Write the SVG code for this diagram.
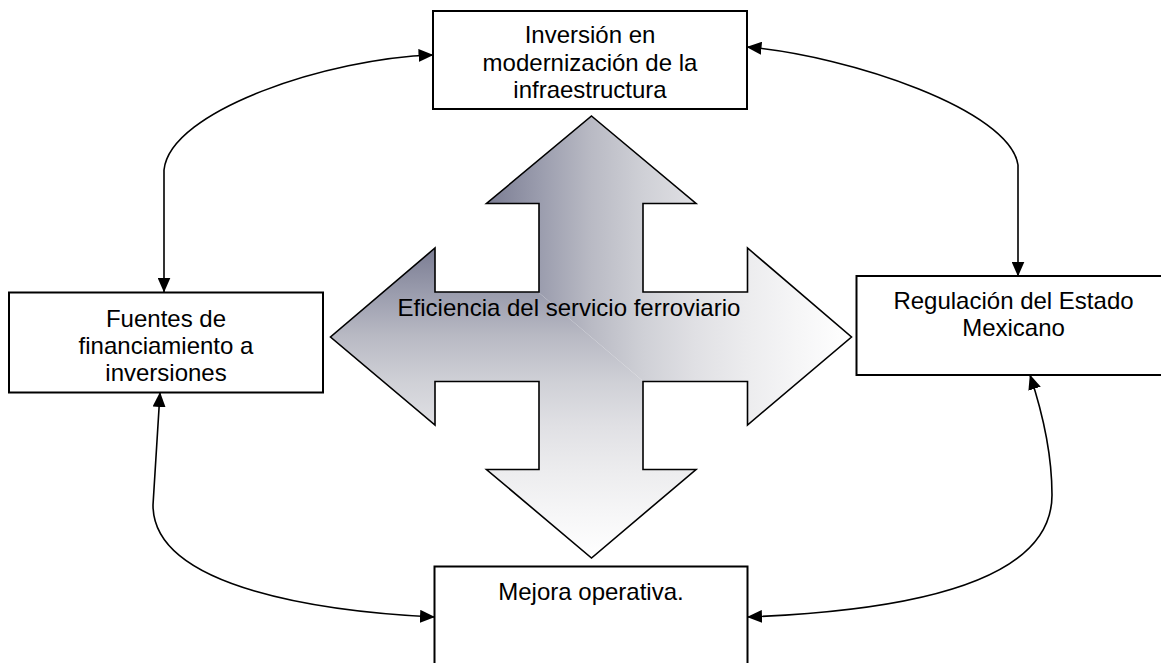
<svg xmlns="http://www.w3.org/2000/svg" xmlns:xlink="http://www.w3.org/1999/xlink" width="1161" height="663" viewBox="0 0 1161 663">
  <style>
    .box { fill: #ffffff; stroke: #000000; stroke-width: 2; }
    .lbl { font-family: "Liberation Sans", Arial, sans-serif; font-size: 24px; fill: #000000; text-anchor: middle; }
    .conn { fill: none; stroke: #000000; stroke-width: 1.6; marker-start: url(#ah); marker-end: url(#ah); }
  </style>
  <defs>
    <marker id="ah" markerUnits="userSpaceOnUse" markerWidth="15" markerHeight="13" refX="14.5" refY="6.5" orient="auto-start-reverse" viewBox="0 0 15 13">
      <path d="M0,0 L15,6.5 L0,13 Z" fill="#000000"/>
    </marker>
    <linearGradient id="gh" gradientUnits="userSpaceOnUse" x1="330.5" y1="0" x2="851.5" y2="0">
      <stop offset="0" stop-color="#6a6c84"/>
      <stop offset="0.3" stop-color="#7b7d93"/>
      <stop offset="0.4" stop-color="#9a9cad"/>
      <stop offset="0.5" stop-color="#b9bac4"/>
      <stop offset="0.6" stop-color="#cfd0d6"/>
      <stop offset="0.7" stop-color="#e0e0e4"/>
      <stop offset="0.8" stop-color="#ececee"/>
      <stop offset="0.9" stop-color="#f6f6f7"/>
      <stop offset="1" stop-color="#ffffff"/>
    </linearGradient>
    <linearGradient id="gv" gradientUnits="userSpaceOnUse" x1="0" y1="116" x2="0" y2="558">
      <stop offset="0" stop-color="#6a6c84"/>
      <stop offset="0.3" stop-color="#7b7d93"/>
      <stop offset="0.4" stop-color="#9a9cad"/>
      <stop offset="0.5" stop-color="#b9bac4"/>
      <stop offset="0.6" stop-color="#cfd0d6"/>
      <stop offset="0.7" stop-color="#e0e0e4"/>
      <stop offset="0.8" stop-color="#ececee"/>
      <stop offset="0.9" stop-color="#f6f6f7"/>
      <stop offset="1" stop-color="#ffffff"/>
    </linearGradient>
    <clipPath id="cu"><path d="M330.5,116 L851.5,116 L851.5,558 Z"/></clipPath>
    <clipPath id="cl"><path d="M330.5,116 L330.5,558 L851.5,558 Z"/></clipPath>
    <path id="cross" d="M591.5,116 L696,203.5 L643,203.5 L643,292 L747.5,292 L747.5,248 L851.5,337 L747.5,425 L747.5,381.5 L643,381.5 L643,469.5 L696,469.5 L591.5,558 L486.5,469.5 L539,469.5 L539,381.5 L435,381.5 L435,425 L330.5,337 L435,248 L435,292 L539,292 L539,203.5 L486.5,203.5 Z"/>
  </defs>

  <g id="eficiencia">
    <use xlink:href="#cross" fill="url(#gh)" clip-path="url(#cu)"/>
    <use xlink:href="#cross" fill="url(#gv)" clip-path="url(#cl)"/>
    <use xlink:href="#cross" fill="none" stroke="#000000" stroke-width="1.6" stroke-linejoin="miter"/>
    <text class="lbl" x="569" y="316">Eficiencia del servicio ferroviario</text>
  </g>

  <g id="inversion">
    <rect class="box" x="433" y="11" width="314" height="98"/>
    <text class="lbl" x="590" y="43">Inversión en</text>
    <text class="lbl" x="590" y="70.6">modernización de la</text>
    <text class="lbl" x="590" y="98.2">infraestructura</text>
  </g>

  <g id="fuentes">
    <rect class="box" x="9" y="292.5" width="314" height="100"/>
    <text class="lbl" x="166" y="326.5">Fuentes de</text>
    <text class="lbl" x="166" y="353.5">financiamiento a</text>
    <text class="lbl" x="166" y="380.5">inversiones</text>
  </g>

  <g id="regulacion">
    <rect class="box" x="856.5" y="276" width="314" height="99"/>
    <text class="lbl" x="1013.5" y="308.5">Regulación del Estado</text>
    <text class="lbl" x="1013.5" y="335.5">Mexicano</text>
  </g>

  <g id="mejora">
    <rect class="box" x="434.5" y="566.5" width="313" height="100"/>
    <text class="lbl" x="591" y="600">Mejora operativa.</text>
  </g>

  <g id="connectors">
    <path class="conn" d="M164,292 L164,170 C170,110 330,58 433,55"/>
    <path class="conn" d="M747,47 C850,56 1010,110 1018,165 L1018,276"/>
    <path class="conn" d="M160,392.5 L153,505 C153,590 330,612 434.5,617"/>
    <path class="conn" d="M1030,375 C1045,420 1052,460 1052,495 C1052,590 880,612 747.5,617"/>
  </g>
</svg>
